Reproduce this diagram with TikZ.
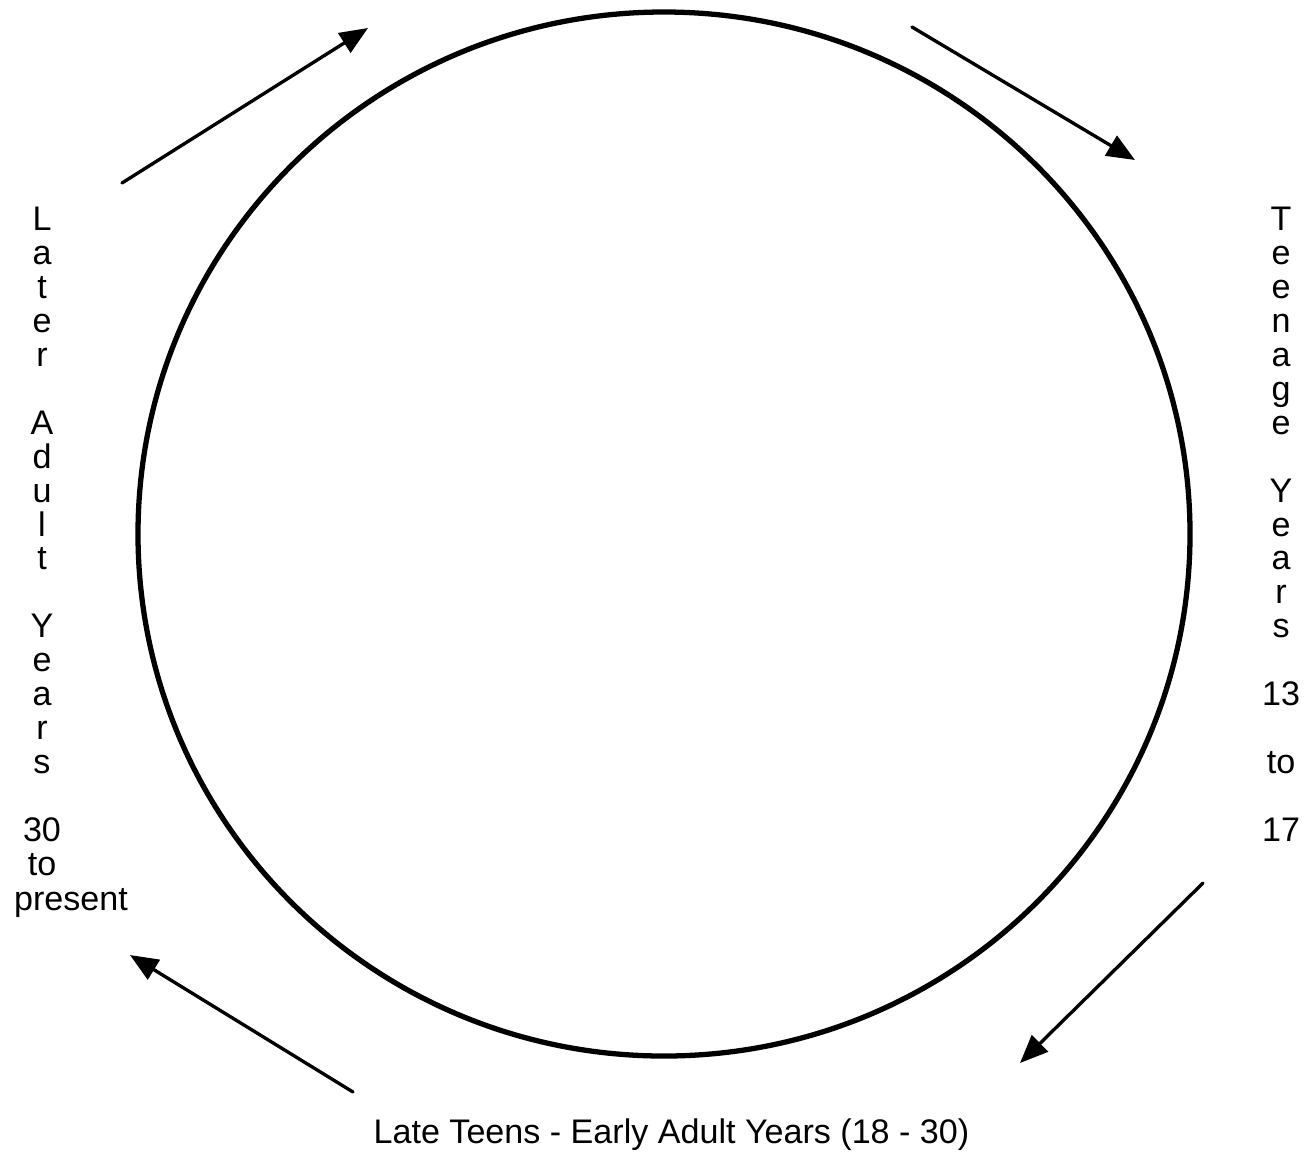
\documentclass[tikz,border=0pt]{standalone}
\usepackage{fontspec}
\setmainfont{Liberation Sans}
\usetikzlibrary{arrows.meta}
\tikzset{
  cyclearrow/.style={line width=1.9pt,-{Triangle[length=16pt,width=13pt]}},
  stagetext/.style={inner sep=0pt,align=center,font=\fontsize{19.4}{19.3}\selectfont}
}
\begin{document}
\begin{tikzpicture}[line join=round,line cap=round]
	\useasboundingbox (0,0) rectangle (26.28,-23.02);
	% the life cycle
	\draw[line width=3pt] (13.28,-10.68) ellipse (10.52 and 10.44);
	% arrow ends
	\coordinate (a1) at (2.44,-3.66);
	\coordinate (a2) at (7.36,-0.56);
	\coordinate (b1) at (18.24,-0.54);
	\coordinate (b2) at (22.70,-3.20);
	\coordinate (c1) at (24.06,-17.66);
	\coordinate (c2) at (20.40,-21.26);
	\coordinate (d1) at (7.06,-21.84);
	\coordinate (d2) at (2.60,-19.10);
	\draw[cyclearrow] (a1)--(a2);
	\draw[cyclearrow] (b1)--(b2);
	\draw[cyclearrow] (c1)--(c2);
	\draw[cyclearrow] (d1)--(d2);
	% stage labels
	\node[stagetext,anchor=north] (later) at (0.84,-4.14)
		{L\\a\\t\\e\\r\\~\\A\\d\\u\\l\\t\\~\\Y\\e\\a\\r\\s\\~\\30\\to};
	\node[stagetext,anchor=base] (present) at (1.42,-18.2) {present};
	\node[stagetext,anchor=north] (teen) at (25.62,-4.14)
		{T\\e\\e\\n\\a\\g\\e\\~\\Y\\e\\a\\r\\s\\~\\13\\~\\to\\~\\17};
	\node[stagetext,anchor=base] (early) at (13.43,-22.86)
		{Late Teens - Early Adult Years (18 - 30)};
\end{tikzpicture}
\end{document}
